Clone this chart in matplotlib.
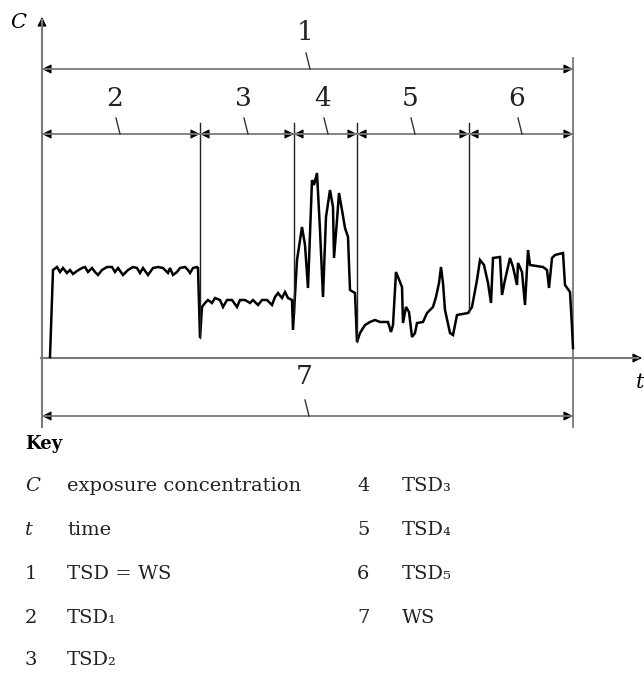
import numpy as np
import matplotlib
matplotlib.use("Agg")
import matplotlib.pyplot as plt
from matplotlib.patches import FancyArrowPatch

# exposure concentration trace (t, C)
t = [8, 11, 15, 18, 21, 25, 28, 31, 35, 40, 43, 46, 50, 53, 56, 60, 65, 70, 73, 76,
     81, 86, 91, 95, 98, 101, 106, 111, 116, 121, 126, 128, 131, 135, 138, 143, 146, 148, 151, 155,
     156, 158, 160, 163, 166, 170, 173, 178, 181, 185, 190, 195, 198, 203, 208, 211, 216, 220, 225, 230,
     233, 236, 240, 243, 246, 250, 251, 255, 260, 263, 266, 270, 272, 275, 278, 281, 284, 288, 291, 292,
     295, 297, 300, 303, 306, 308, 313, 315, 318, 323, 328, 333, 338, 346, 349, 351, 354, 356, 360, 361,
     364, 367, 370, 373, 375, 381, 385, 391, 394, 397, 399, 401, 403, 408, 411, 415, 426, 430, 435, 438,
     442, 446, 449, 451, 458, 460, 463, 468, 471, 475, 476, 480, 483, 486, 488, 501, 505, 507, 510, 513,
     521, 523, 528, 530, 531]
C = [1, 88, 91, 86, 90, 85, 88, 84, 87, 90, 91, 86, 90, 86, 83, 88, 91, 91, 86, 90,
     83, 88, 91, 90, 85, 90, 83, 90, 91, 90, 85, 90, 83, 86, 90, 91, 88, 85, 90, 91,
     90, 20, 51, 55, 58, 55, 60, 58, 51, 58, 58, 51, 58, 58, 55, 58, 53, 58, 58, 53,
     61, 65, 60, 66, 60, 58, 28, 98, 131, 113, 70, 178, 173, 185, 128, 61, 141, 168, 151, 100,
     138, 165, 148, 130, 121, 68, 65, 16, 25, 33, 36, 38, 36, 36, 26, 33, 86, 81, 71, 35,
     51, 46, 21, 25, 35, 36, 45, 51, 61, 75, 91, 75, 48, 25, 23, 43, 45, 51, 78, 98,
     93, 75, 55, 100, 101, 63, 78, 100, 91, 73, 95, 86, 53, 108, 93, 91, 88, 70, 100, 103,
     105, 73, 66, 31, 10]

# period boundaries (TSD1..TSD5) along t
bounds = [0, 158, 252, 315, 427, 531]
periodLabels = ["2", "3", "4", "5", "6"]
labelPos = [73, 201, 281, 368, 475]

keyLeft = [("C", "exposure concentration"), ("t", "time"), ("1", "TSD = WS"),
           ("2", "TSD\u2081"), ("3", "TSD\u2082")]
keyRight = [("4", "TSD\u2083"), ("5", "TSD\u2084"), ("6", "TSD\u2085"), ("7", "WS")]

GRAY = "#7a7a7a"
INK = "#222222"
SERIF = ["DejaVu Serif"]


def head(ax, tip, direction, vertical=False):
    # black filled arrow head, line drawn separately in gray
    if vertical:
        base = (tip[0], tip[1] - 10 * direction)
    else:
        base = (tip[0] - 10 * direction, tip[1])
    ax.add_patch(FancyArrowPatch(base, tip, arrowstyle="-|>", mutation_scale=14,
                                 lw=0.8, color="black", shrinkA=0, shrinkB=0))


def dimension(ax, t0, t1, level, label, labelT, labelC):
    ax.plot([t0, t1], [level, level], color=GRAY, lw=1.3)
    head(ax, (t0, level), -1)
    head(ax, (t1, level), 1)
    ax.text(labelT, labelC, label, ha="center", va="center", fontsize=19,
            family=SERIF, color=INK)
    # little leader from the number to the dimension line
    ax.plot([labelT + 1, labelT + 5], [level + 16, level], color="#333333", lw=1)


fig = plt.figure(figsize=(6.44, 6.74), dpi=100)
ax = fig.add_axes([0, 0, 1, 1])
ax.set_xlim(-42, 602)
ax.set_ylim(-316, 358)
ax.axis("off")

# axes with arrow heads
ax.plot([0, 0], [-69, 338], color=GRAY, lw=1.5)
head(ax, (0, 341), 1, vertical=True)
ax.plot([-1, 596], [0, 0], color=GRAY, lw=1.5)
head(ax, (600, 0), 1)
ax.plot([531, 531], [-69, 300], color=GRAY, lw=1.3)
ax.text(-24, 335, "C", fontsize=15, style="italic", family=SERIF, ha="center", va="center")
ax.text(598, -25, "t", fontsize=15, style="italic", family=SERIF, ha="center", va="center")

# signal
ax.plot(t, C, color="black", lw=1.8, solid_joinstyle="miter")

# period dividers down to the trace
for b in bounds[1:-1]:
    ax.plot([b, b], [235, np.interp(b, t, C)], color=INK, lw=1)

# dimension lines
dimension(ax, bounds[0], bounds[-1], 289, "1", 263, 325)
for i in range(len(periodLabels)):
    dimension(ax, bounds[i], bounds[i + 1], 224, periodLabels[i], labelPos[i], 260)
dimension(ax, bounds[0], bounds[-1], -58, "7", 262, -19)


# key
def px(x, y):
    return x / 644, 1 - y / 674


fig.text(*px(25, 444), "Key", fontsize=13, fontweight="bold", family=SERIF, va="center")
rows = [486, 530, 574, 618, 660]
for i, (sym, txt) in enumerate(keyLeft):
    st = "italic" if sym in ("C", "t") else "normal"
    fig.text(*px(25, rows[i]), sym, fontsize=14, style=st, family=SERIF, va="center", color=INK)
    fig.text(*px(67, rows[i]), txt, fontsize=14, family=SERIF, va="center", color=INK)
for i, (sym, txt) in enumerate(keyRight):
    fig.text(*px(357, rows[i]), sym, fontsize=14, family=SERIF, va="center", color=INK)
    fig.text(*px(402, rows[i]), txt, fontsize=14, family=SERIF, va="center", color=INK)

fig.savefig("out.png", dpi=100)
